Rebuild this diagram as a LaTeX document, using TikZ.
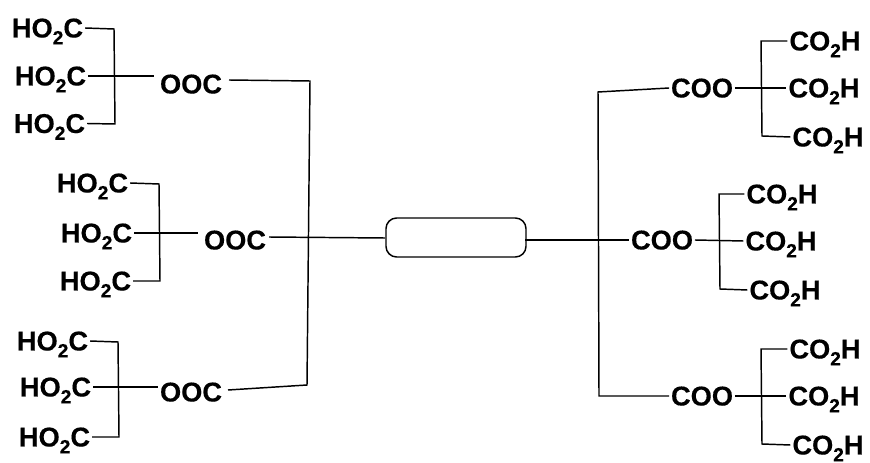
\documentclass[tikz,border=0pt]{standalone}
\usepackage{fontspec}
\setmainfont[BoldFeatures={FakeBold=0.35}]{Liberation Sans}
\newcommand{\subtwo}{\raisebox{-5.2pt}{\fontsize{14.4pt}{15pt}\selectfont\bfseries 2}}
\newcommand{\hoc}{HO\subtwo C}
\newcommand{\coh}{CO\subtwo H}
\tikzset{
  chem/.style={font=\fontsize{20.4pt}{22pt}\selectfont\bfseries, text height=15pt, text depth=0.8pt, inner xsep=1.5pt, inner ysep=0pt, outer sep=0pt},
  bond/.style={draw=black, line width=1.1pt, line join=miter},
  core/.style={draw=black, line width=1.1pt, rounded corners=8pt, minimum width=105pt, minimum height=29.25pt, inner sep=0pt}
}
\begin{document}
\begin{tikzpicture}[x=0.75pt,y=-0.75pt]
\useasboundingbox (0,0) rectangle (870,463);
% central box
\node[core] (core) at (456,237.5) {};
% left arms
\node[chem] (a1) at (47.5,28) {\hoc};
\node[chem] (a2) at (50.5,76) {\hoc};
\node[chem] (a3) at (49.5,123.5) {\hoc};
\node[chem] (a) at (191,84) {OOC};
\node[chem] (b1) at (92.5,183) {\hoc};
\node[chem] (b2) at (96.5,233) {\hoc};
\node[chem] (b3) at (95.5,281) {\hoc};
\node[chem] (b) at (235,240) {OOC};
\node[chem] (c1) at (52.5,341) {\hoc};
\node[chem] (c2) at (55.5,387) {\hoc};
\node[chem] (c3) at (54.5,437) {\hoc};
\node[chem] (c) at (191,392) {OOC};
% right arms
\node[chem] (d1) at (825,41) {\coh};
\node[chem] (d2) at (824,88) {\coh};
\node[chem] (d3) at (828,137) {\coh};
\node[chem] (d) at (702,88) {COO};
\node[chem] (e1) at (782,194) {\coh};
\node[chem] (e2) at (781,241) {\coh};
\node[chem] (e3) at (785,290) {\coh};
\node[chem] (e) at (662,240) {COO};
\node[chem] (f1) at (825,349) {\coh};
\node[chem] (f2) at (824,396) {\coh};
\node[chem] (f3) at (828,445) {\coh};
\node[chem] (f) at (702,396) {COO};
% junction coordinates
\coordinate (at) at (114,29); \coordinate (ab) at (115,124);
\coordinate (bt) at (159,184); \coordinate (bb) at (160,281);
\coordinate (ct) at (118,342); \coordinate (cb) at (119,437);
\coordinate (dt) at (761,41); \coordinate (db) at (762,136);
\coordinate (et) at (719,194); \coordinate (eb) at (720,289);
\coordinate (ft) at (761,349); \coordinate (fb) at (762,444);
\coordinate (lt) at (310,81); \coordinate (lb) at (307,385);
\coordinate (rt) at (598,92); \coordinate (rb) at (599,396);
% free ends of the connectors beside the labels
\coordinate (ax) at (154,76); \coordinate (ae) at (229,80);
\coordinate (bx) at (198,233); \coordinate (be) at (269,237);
\coordinate (cx) at (158,387); \coordinate (ce) at (228,390);
\coordinate (corel) at (385,238); \coordinate (corer) at (525,240);
% left connectors
\draw[bond] (a1.east) -- (at) -- (ab) -- (a3.east);
\draw[bond] (a2.east) -- (ax);
\draw[bond] (b1.east) -- (bt) -- (bb) -- (b3.east);
\draw[bond] (b2.east) -- (bx);
\draw[bond] (c1.east) -- (ct) -- (cb) -- (c3.east);
\draw[bond] (c2.east) -- (cx);
\draw[bond] (ae) -- (lt) -- (lb) -- (ce);
\draw[bond] (be) -- (corel);
% right connectors
\draw[bond] (d1.west) -- (dt) -- (db) -- (d3.west);
\draw[bond] (d.east) -- (d2.west);
\draw[bond] (e1.west) -- (et) -- (eb) -- (e3.west);
\draw[bond] (e.east) -- (e2.west);
\draw[bond] (f1.west) -- (ft) -- (fb) -- (f3.west);
\draw[bond] (f.east) -- (f2.west);
\draw[bond] (d.west) -- (rt) -- (rb) -- (f.west);
\draw[bond] (corer) -- (e.west);
\end{tikzpicture}
\end{document}
